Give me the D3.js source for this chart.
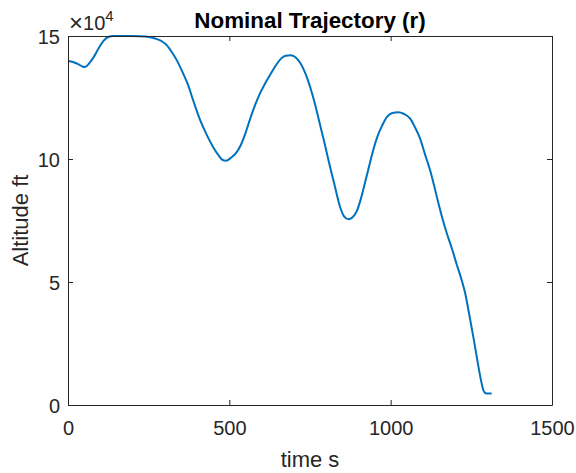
<!DOCTYPE html>
<html>
<head>
<meta charset="utf-8">
<script src="https://cdn.jsdelivr.net/npm/d3@7"></script>
<style>
  html, body { margin: 0; padding: 0; background: #fff; }
  svg { display: block; font-family: "Liberation Sans", Arial, Helvetica, sans-serif; }
</style>
</head>
<body>
<svg id="chart" width="576" height="473"></svg>
<script>
// Nominal reference trajectory: time (s) and altitude (ft)
const timeS = [
  0, 15, 30, 45, 53, 65, 80, 95, 110, 125, 140, 200, 240, 270, 290, 306, 320, 337,
  355, 370, 388, 409, 430, 450, 465, 478, 490, 505, 520, 535, 550, 565, 580, 595,
  610, 626, 645, 660, 675, 690, 705, 720, 735, 750, 765, 780, 795, 810, 825, 843,
  855, 869, 882, 895, 908, 920, 935, 946, 960, 972, 988, 1005, 1024, 1040, 1060,
  1075, 1091, 1105, 1122, 1135, 1148, 1160, 1174, 1190, 1205, 1220, 1231, 1241,
  1256, 1265, 1272, 1280, 1287, 1292, 1297, 1313
];
const altitudeFt = [
  139900, 139400, 138700, 137600, 137400, 138800, 141500, 145000, 148000, 149600,
  150000, 150000, 149800, 149000, 147900, 146300, 143800, 140200, 135300, 130800,
  123800, 116000, 109800, 104800, 101800, 99700, 99300, 100500, 102300, 105500,
  110500, 116500, 122000, 126700, 130500, 134100, 138200, 140800, 142000, 142200,
  141400, 139000, 135000, 129500, 122600, 114500, 106500, 98000, 90000, 80600,
  76800, 75500, 76300, 78800, 84000, 90100, 98000, 103700, 109500, 113100, 117000,
  118700, 119000, 118400, 116500, 113000, 108400, 102500, 95500, 89000, 82000,
  76000, 69800, 63500, 57000, 50800, 45400, 38600, 27800, 21000, 15600, 10000,
  6100, 5000, 4700, 4700
];
const xTicks = [0, 500, 1000, 1500];
const yTicks = [0, 50000, 100000, 150000];
const yExponent = 4;

const titleText = "Nominal Trajectory (r)";
const xLabel = "time s";
const yLabel = "Altitude ft";

const svg = d3.select("#chart");
const W = 576, H = 473;
const margin = { left: 68, right: W - 552, top: 36, bottom: H - 405 };
const x0 = margin.left, x1 = W - margin.right;
const y0 = H - margin.bottom, y1 = margin.top;

const x = d3.scaleLinear().domain([0, 1500]).range([x0, x1]);
const y = d3.scaleLinear().domain([0, 150000]).range([y0, y1]);

const axisColor = "#262626";
const fontSize = 20;

// Data line
const pts = timeS.map((t, i) => [t, altitudeFt[i]]);
const line = d3.line()
  .x(d => x(d[0]))
  .y(d => y(d[1]))
  .curve(d3.curveMonotoneX);

svg.append("path")
  .datum(pts)
  .attr("d", line)
  .attr("fill", "none")
  .attr("stroke", "#0072BD")
  .attr("stroke-width", 2)
  .attr("stroke-linejoin", "round");

// Axes (ticks point inward, as on a boxed plot)
function styleAxis(g) {
  g.select(".domain").attr("stroke", axisColor).attr("stroke-width", 1);
  g.selectAll(".tick line").attr("stroke", axisColor).attr("stroke-width", 1);
  g.selectAll(".tick text").attr("fill", axisColor).attr("font-size", fontSize)
    .attr("font-family", "Liberation Sans, Arial, sans-serif");
}

const fmtY = d => d3.format("d")(d / Math.pow(10, yExponent));

svg.append("g")
  .attr("transform", `translate(0,${y0})`)
  .call(d3.axisBottom(x).tickValues(xTicks).tickSizeInner(-5).tickSizeOuter(0).tickPadding(16).tickFormat(d3.format("d")))
  .call(styleAxis);

svg.append("g")
  .attr("transform", `translate(0,${y1})`)
  .call(d3.axisTop(x).tickValues(xTicks).tickSizeInner(-5).tickSizeOuter(0).tickFormat(""))
  .call(styleAxis);

const gl = svg.append("g")
  .attr("transform", `translate(${x0},0)`)
  .call(d3.axisLeft(y).tickValues(yTicks).tickSizeInner(-5).tickSizeOuter(0).tickPadding(8).tickFormat(fmtY))
  .call(styleAxis);
gl.selectAll(".tick text").attr("dy", "0.375em");

svg.append("g")
  .attr("transform", `translate(${x1},0)`)
  .call(d3.axisRight(y).tickValues(yTicks).tickSizeInner(-5).tickSizeOuter(0).tickFormat(""))
  .call(styleAxis);

// Exponent marker above the y axis
const expo = svg.append("text")
  .attr("x", 69)
  .attr("y", 30)
  .attr("fill", axisColor)
  .attr("font-size", fontSize);
expo.append("tspan").attr("font-size", 24).attr("dy", 1).text("\u00D7");
expo.append("tspan").attr("dy", -1).text("10");
expo.append("tspan").attr("font-size", 15).attr("dy", -9).text(String(yExponent));

// Title and axis labels
svg.append("text")
  .attr("x", (x0 + x1) / 2)
  .attr("y", 28)
  .attr("text-anchor", "middle")
  .attr("font-size", 22.4)
  .attr("font-weight", "bold")
  .attr("fill", "#000")
  .text(titleText);

svg.append("text")
  .attr("x", (x0 + x1) / 2)
  .attr("y", 467)
  .attr("text-anchor", "middle")
  .attr("font-size", 22)
  .attr("fill", axisColor)
  .text(xLabel);

svg.append("text")
  .attr("transform", `translate(28,${(y0 + y1) / 2}) rotate(-90)`)
  .attr("text-anchor", "middle")
  .attr("font-size", 22)
  .attr("fill", axisColor)
  .text(yLabel);
</script>
</body>
</html>
